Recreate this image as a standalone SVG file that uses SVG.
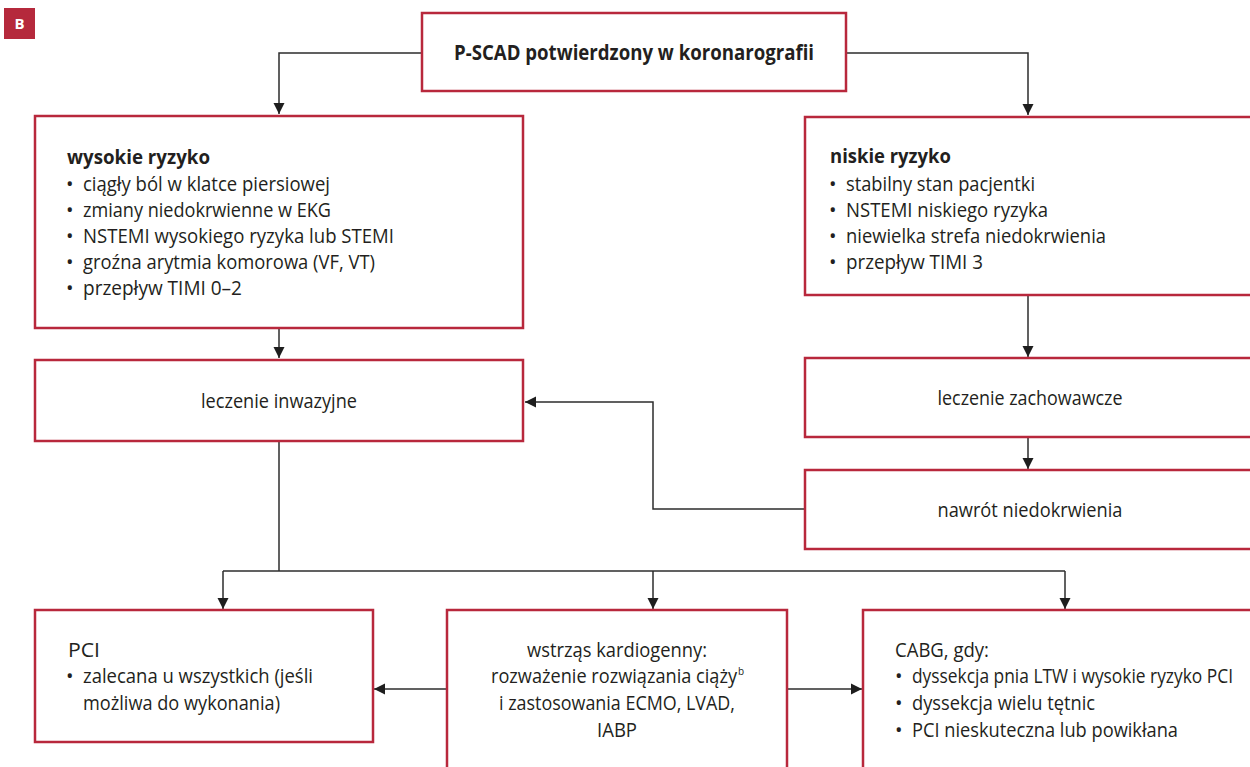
<svg xmlns="http://www.w3.org/2000/svg" width="1250" height="767" viewBox="0 0 1250 767">
<style>
.box{fill:#fff;stroke:#b8283c;stroke-width:2.5}
.t{font-family:"Open Sans","Noto Sans","DejaVu Sans",sans-serif;font-size:20px;fill:#231f20}
.b{font-weight:bold}
.c{text-anchor:middle}
.ln{fill:none;stroke:#2d2d2d;stroke-width:1.5}
</style>
<defs>
<marker id="ah" markerUnits="userSpaceOnUse" markerWidth="12" markerHeight="12" refX="11" refY="6" orient="auto">
<path d="M0,0.5 L11,6 L0,11.5 z" fill="#1e1e1e"/>
</marker>
</defs>
<rect width="1250" height="767" fill="#fff"/>
<g id="badge">
<rect x="4" y="8" width="31" height="31" fill="#b5293c"/>
<text x="19.5" y="29" class="t b c" style="fill:#fff;font-size:15px">B</text>
</g>
<g id="connectors">
<path class="ln" d="M422,53 H279 V114" marker-end="url(#ah)"/>
<path class="ln" d="M846,53 H1028 V115" marker-end="url(#ah)"/>
<path class="ln" d="M279,328 V358" marker-end="url(#ah)"/>
<path class="ln" d="M1028,295 V357" marker-end="url(#ah)"/>
<path class="ln" d="M1028,437 V469" marker-end="url(#ah)"/>
<path class="ln" d="M805,509 H653 V402 H525" marker-end="url(#ah)"/>
<path class="ln" d="M279,441 V571"/>
<path class="ln" d="M223,571 H1065"/>
<path class="ln" d="M223,571 V609" marker-end="url(#ah)"/>
<path class="ln" d="M653,571 V609" marker-end="url(#ah)"/>
<path class="ln" d="M1065,571 V609" marker-end="url(#ah)"/>
<path class="ln" d="M447,689 H374" marker-end="url(#ah)"/>
<path class="ln" d="M787,689 H862" marker-end="url(#ah)"/>
</g>
<g id="n-top">
<rect class="box" x="422" y="13" width="424" height="78"/>
<text x="634" y="60" class="t b c" style="font-size:22px" textLength="360" lengthAdjust="spacingAndGlyphs">P-SCAD potwierdzony w koronarografii</text>
</g>
<g id="n-high">
<rect class="box" x="35" y="116" width="488" height="212"/>
<text x="67" y="164" class="t b" style="font-size:20px" textLength="143" lengthAdjust="spacingAndGlyphs">wysokie ryzyko</text>
<g class="t">
<text x="66" y="191">•</text><text x="83" y="191" textLength="247" lengthAdjust="spacingAndGlyphs">ciągły ból w klatce piersiowej</text>
<text x="66" y="217">•</text><text x="83" y="217" textLength="248" lengthAdjust="spacingAndGlyphs">zmiany niedokrwienne w EKG</text>
<text x="66" y="243">•</text><text x="83" y="243" textLength="311" lengthAdjust="spacingAndGlyphs">NSTEMI wysokiego ryzyka lub STEMI</text>
<text x="66" y="269">•</text><text x="83" y="269" textLength="292" lengthAdjust="spacingAndGlyphs">groźna arytmia komorowa (VF, VT)</text>
<text x="66" y="295">•</text><text x="83" y="295" textLength="159" lengthAdjust="spacingAndGlyphs">przepływ TIMI 0–2</text>
</g>
</g>
<g id="n-low">
<rect class="box" x="805" y="117" width="460" height="178"/>
<text x="830" y="163" class="t b" style="font-size:20px" textLength="121" lengthAdjust="spacingAndGlyphs">niskie ryzyko</text>
<g class="t">
<text x="829" y="191">•</text><text x="846" y="191" textLength="189" lengthAdjust="spacingAndGlyphs">stabilny stan pacjentki</text>
<text x="829" y="217">•</text><text x="846" y="217" textLength="202" lengthAdjust="spacingAndGlyphs">NSTEMI niskiego ryzyka</text>
<text x="829" y="243">•</text><text x="846" y="243" textLength="260" lengthAdjust="spacingAndGlyphs">niewielka strefa niedokrwienia</text>
<text x="829" y="269">•</text><text x="846" y="269" textLength="137" lengthAdjust="spacingAndGlyphs">przepływ TIMI 3</text>
</g>
</g>
<g id="n-inv">
<rect class="box" x="35" y="360" width="488" height="81"/>
<text x="279" y="408" class="t c" textLength="156" lengthAdjust="spacingAndGlyphs">leczenie inwazyjne</text>
</g>
<g id="n-zach">
<rect class="box" x="805" y="358" width="460" height="79"/>
<text x="1030" y="405" class="t c" textLength="185" lengthAdjust="spacingAndGlyphs">leczenie zachowawcze</text>
</g>
<g id="n-nawrot">
<rect class="box" x="805" y="470" width="460" height="79"/>
<text x="1030" y="517" class="t c" textLength="185" lengthAdjust="spacingAndGlyphs">nawrót niedokrwienia</text>
</g>
<g id="n-pci">
<rect class="box" x="35" y="610" width="338" height="132"/>
<g class="t">
<text x="68" y="657" textLength="32" lengthAdjust="spacingAndGlyphs">PCI</text>
<text x="66" y="683">•</text><text x="83" y="683" textLength="230" lengthAdjust="spacingAndGlyphs">zalecana u wszystkich (jeśli</text>
<text x="83" y="710" textLength="197" lengthAdjust="spacingAndGlyphs">możliwa do wykonania)</text>
</g>
</g>
<g id="n-shock">
<rect class="box" x="447" y="610" width="340" height="175"/>
<g class="t c">
<text x="617" y="657" textLength="180" lengthAdjust="spacingAndGlyphs">wstrząs kardiogenny:</text>
<text x="491" y="683" style="text-anchor:start"><tspan textLength="246" lengthAdjust="spacingAndGlyphs">rozważenie rozwiązania ciąży</tspan><tspan dx="1" dy="-8" style="font-size:10px">b</tspan></text>
<text x="617" y="710" textLength="236" lengthAdjust="spacingAndGlyphs">i zastosowania ECMO, LVAD,</text>
<text x="617" y="737" textLength="40" lengthAdjust="spacingAndGlyphs">IABP</text>
</g>
</g>
<g id="n-cabg">
<rect class="box" x="863" y="610" width="400" height="175"/>
<g class="t">
<text x="895" y="657" textLength="94" lengthAdjust="spacingAndGlyphs">CABG, gdy:</text>
<text x="895" y="683">•</text><text x="912" y="683" textLength="321" lengthAdjust="spacingAndGlyphs">dyssekcja pnia LTW i wysokie ryzyko PCI</text>
<text x="895" y="710">•</text><text x="912" y="710" textLength="183" lengthAdjust="spacingAndGlyphs">dyssekcja wielu tętnic</text>
<text x="895" y="737">•</text><text x="912" y="737" textLength="266" lengthAdjust="spacingAndGlyphs">PCI nieskuteczna lub powikłana</text>
</g>
</g>
</svg>
